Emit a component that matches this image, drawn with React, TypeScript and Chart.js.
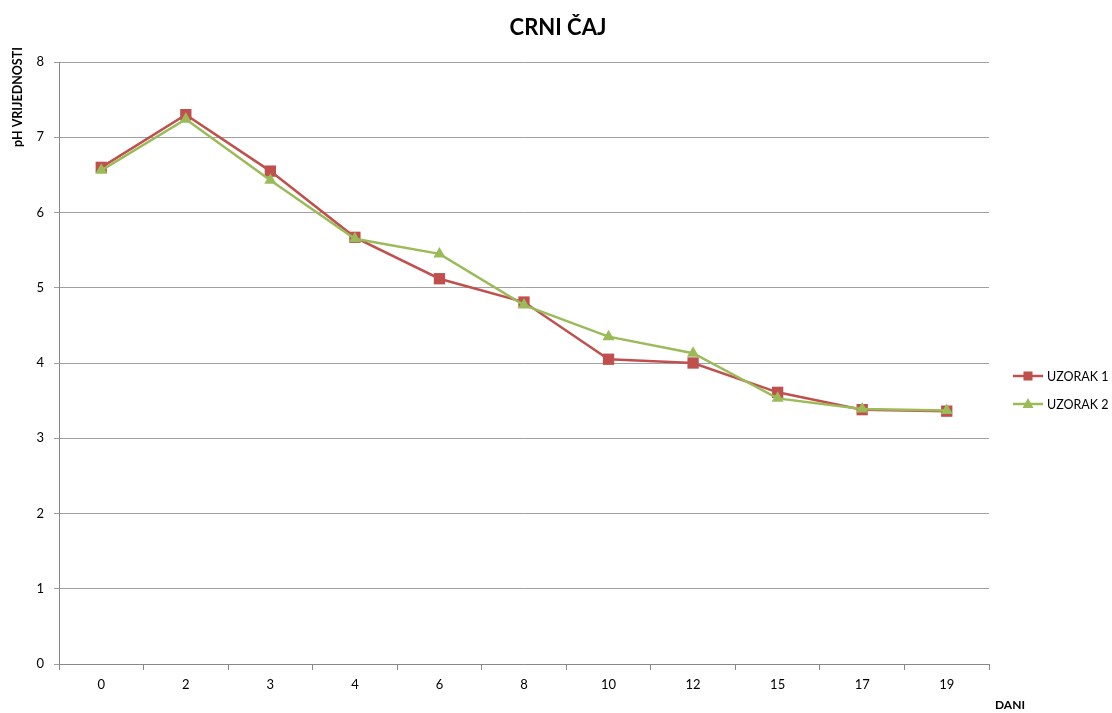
import React, { useEffect, useRef } from "react";
import { Chart, registerables } from "chart.js";

Chart.register(...registerables);

const TITLE = "CRNI ČAJ";
const Y_TITLE = "pH VRIJEDNOSTI";
const X_TITLE = "DANI";
const DAYS = ["0", "2", "3", "4", "6", "8", "10", "12", "15", "17", "19"];
const SERIES_1_NAME = "UZORAK 1";
const SERIES_2_NAME = "UZORAK 2";
const SERIES_1 = [6.6, 7.3, 6.55, 5.67, 5.12, 4.81, 4.05, 4.0, 3.61, 3.38, 3.36];
const SERIES_2 = [6.56, 7.24, 6.43, 5.65, 5.45, 4.77, 4.35, 4.13, 3.53, 3.39, 3.37];
const Y_TICKS = [0, 1, 2, 3, 4, 5, 6, 7, 8];

const RED = "#C0504D";
const GREEN = "#9BBB59";
const FONT = "Lato, 'Open Sans', sans-serif";

const overlay = {
  id: "overlay",
  afterDraw(chart: any) {
    const ctx = chart.ctx;
    ctx.save();
    // title
    ctx.fillStyle = "#000";
    ctx.font = `bold 22px ${FONT}`;
    ctx.textAlign = "center";
    ctx.textBaseline = "middle";
    ctx.fillText(TITLE, 558, 28);
    // y title
    ctx.save();
    ctx.translate(18, 97);
    ctx.rotate(-Math.PI / 2);
    ctx.font = `bold 12.5px ${FONT}`;
    ctx.fillText(Y_TITLE, 0, 0);
    ctx.restore();
    // x title
    ctx.font = `bold 12px ${FONT}`;
    ctx.textAlign = "center";
    ctx.fillText(X_TITLE, 1010, 705);
    // legend
    const items = [
      { name: SERIES_1_NAME, color: RED, style: "rect" },
      { name: SERIES_2_NAME, color: GREEN, style: "triangle" },
    ];
    items.forEach((it, i) => {
      const y = 376 + i * 28;
      ctx.strokeStyle = it.color;
      ctx.lineWidth = 2.5;
      ctx.beginPath();
      ctx.moveTo(1013, y);
      ctx.lineTo(1043, y);
      ctx.stroke();
      ctx.fillStyle = it.color;
      if (it.style === "rect") {
        ctx.fillRect(1028 - 4.5, y - 4.5, 9, 9);
      } else {
        ctx.beginPath();
        ctx.moveTo(1028, y - 6);
        ctx.lineTo(1033.5, y + 4);
        ctx.lineTo(1022.5, y + 4);
        ctx.closePath();
        ctx.fill();
      }
      ctx.fillStyle = "#000";
      ctx.font = `12.5px ${FONT}`;
      ctx.textAlign = "left";
      ctx.fillText(it.name, 1047, y + 1);
    });
    ctx.restore();
  },
};

export default function App() {
  const ref = useRef<HTMLCanvasElement | null>(null);
  useEffect(() => {
    document.body.style.margin = "0";
    const chart = new Chart(ref.current as HTMLCanvasElement, {
      type: "line",
      data: {
        labels: DAYS,
        datasets: [
          {
            label: SERIES_1_NAME,
            data: SERIES_1,
            borderColor: RED,
            backgroundColor: RED,
            borderWidth: 2.5,
            pointStyle: "rect",
            pointRadius: 8,
            pointBorderWidth: 0,
            order: 1,
          },
          {
            label: SERIES_2_NAME,
            data: SERIES_2,
            borderColor: GREEN,
            backgroundColor: GREEN,
            borderWidth: 2.5,
            pointStyle: "triangle",
            pointRadius: 7,
            pointBorderWidth: 0,
            order: 0,
          },
        ],
      },
      options: {
        responsive: false,
        animation: false,
        devicePixelRatio: 1,
        layout: { padding: { top: 62, right: 123, bottom: 0, left: 0 } },
        plugins: { legend: { display: false }, title: { display: false }, tooltip: { enabled: false } },
        scales: {
          x: {
            type: "category",
            offset: true,
            grid: {
              offset: true,
              drawOnChartArea: false,
              drawTicks: true,
              tickLength: 6,
              color: "#888",
            },
            border: { color: "#888", width: 1 },
            ticks: { color: "#000", font: { family: FONT, size: 13 }, padding: 7, maxRotation: 0 },
            afterFit: (s: any) => {
              s.height = 49;
            },
          },
          y: {
            min: 0,
            max: 8,
            afterBuildTicks: (s: any) => {
              s.ticks = Y_TICKS.map((v) => ({ value: v }));
            },
            grid: { color: "#a0a0a0", lineWidth: 1, tickLength: 5 },
            border: { color: "#888", width: 1 },
            ticks: { color: "#000", font: { family: FONT, size: 13 }, padding: 10 },
            afterFit: (s: any) => {
              s.width = 59;
            },
          },
        },
      },
      plugins: [overlay],
    });
    return () => chart.destroy();
  }, []);
  return (
    <div style={{ width: 1112, height: 713, background: "#fff" }}>
      <canvas ref={ref} width={1112} height={713} style={{ display: "block" }} />
    </div>
  );
}
